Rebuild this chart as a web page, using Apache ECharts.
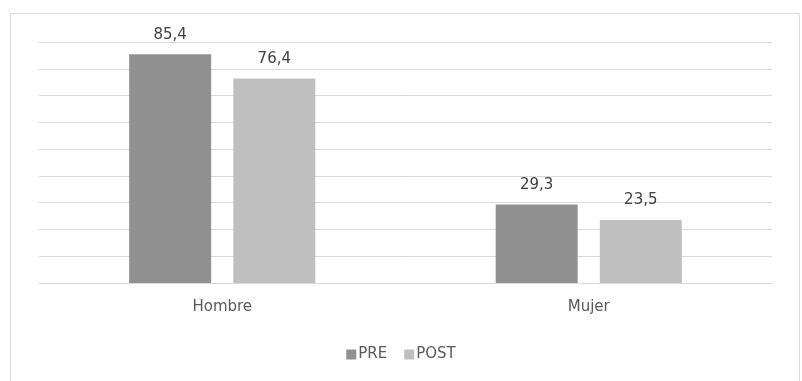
<!DOCTYPE html>
<html>
<head>
<meta charset="utf-8">
<script src="https://cdn.jsdelivr.net/npm/echarts@6/dist/echarts.min.js"></script>
<style>html,body{margin:0;padding:0;background:#fff}#c{width:802px;height:381px}</style>
</head>
<body>
<div id="c"></div>
<script>
const categories = ['Hombre', 'Mujer'];
const preValues = [85.4, 29.3];
const postValues = [76.4, 23.5];
const seriesNames = ['PRE', 'POST'];

const FONT = 'DejaVu Sans';
const chart = echarts.init(document.getElementById('c'), null, {renderer: 'canvas'});
const fmt = p => String(p.value).replace('.', ',');
chart.setOption({
  animation: false,
  backgroundColor: '#ffffff',
  graphic: [{
    type: 'rect', shape: {x: 10.5, y: 13.5, width: 789, height: 400},
    style: {fill: 'none', stroke: '#d9d9d9', lineWidth: 1}, silent: true
  }],
  grid: {left: 39, right: 30, top: 42, bottom: 98},
  legend: {
    data: seriesNames, bottom: 14, left: 'center',
    itemWidth: 10, itemHeight: 10, itemGap: 17,
    icon: 'rect',
    textStyle: {color: '#595959', fontFamily: FONT, fontSize: 15, padding: [0, 0, 0, -3]}
  },
  xAxis: {
    type: 'category', data: categories,
    axisLine: {lineStyle: {color: '#d9d9d9', width: 1}},
    axisTick: {show: false},
    axisLabel: {color: '#595959', fontFamily: FONT, fontSize: 15, margin: 17}
  },
  yAxis: {
    type: 'value', min: 0, max: 90, interval: 10,
    axisLabel: {show: false}, axisLine: {show: false}, axisTick: {show: false},
    splitLine: {lineStyle: {color: '#d9d9d9', width: 1}}
  },
  series: [
    {name: 'PRE', type: 'bar', data: preValues, barWidth: 82, barGap: '27%',
     itemStyle: {color: '#919191'},
     label: {show: true, position: 'top', distance: 12, formatter: fmt, color: '#404040', fontFamily: FONT, fontSize: 15}},
    {name: 'POST', type: 'bar', data: postValues, barWidth: 82,
     itemStyle: {color: '#bfbfbf'},
     label: {show: true, position: 'top', distance: 12, formatter: fmt, color: '#404040', fontFamily: FONT, fontSize: 15}}
  ]
});
</script>
</body>
</html>
